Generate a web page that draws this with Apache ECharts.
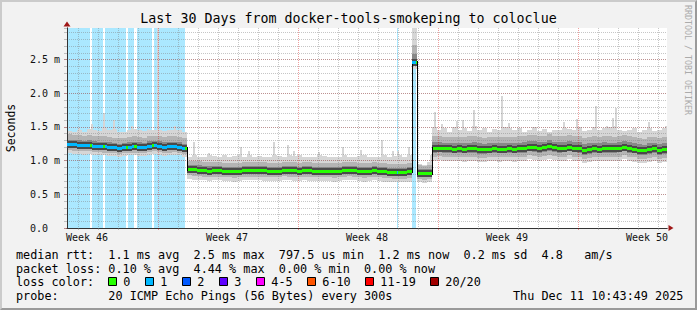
<!DOCTYPE html>
<html><head><meta charset="utf-8">
<script src="https://cdn.jsdelivr.net/npm/echarts@6/dist/echarts.min.js"></script>
<style>
html,body{margin:0;padding:0;background:#F2F2F2;}
#wrap{position:relative;width:697px;height:310px;overflow:hidden;}
#chart{width:697px;height:310px;}
#frame{position:absolute;left:0;top:0;width:697px;height:310px;box-sizing:border-box;border-top:2px solid #CBCBCB;border-left:2px solid #CBCBCB;border-bottom:2px solid #9A9A9A;border-right:2px solid #9A9A9A;pointer-events:none;}
</style></head>
<body><div id="wrap"><div id="chart"></div><div id="frame"></div></div>
<script>
// ---------------- data ----------------
const titleText = 'Last 30 Days from docker-tools-smokeping to coloclue';
const weekLabels = ['Week 46', 'Week 47', 'Week 48', 'Week 49', 'Week 50'];
const weekLabelHours = [24, 192, 360, 528, 696];   // hour from graph start where each label sits
const firstDayLineHour = 13;                        // day grid lines every 24 h from here
const firstWeekLineHour = 109;                      // week grid lines every 168 h from here
const totalDays = 30;
const colDays = 0.25;                               // each data column = 6 h
const yMax = 2.97;                                  // ms
const yLabelTicks = [0, 0.5, 1.0, 1.5, 2.0, 2.5];

// median rtt per column (ms)
const median = [
 1.25,1.24,1.235,1.23,1.235,1.225,1.22,1.215,1.21,1.20,1.19,1.20,1.205,1.215,1.21,1.20,1.225,1.23,1.225,1.205,1.215,1.22,1.21,1.19,
 0.875,0.872,0.866,0.86,0.853,0.855,0.862,0.848,0.845,0.842,0.848,0.855,0.862,0.86,0.862,0.855,0.848,0.85,0.846,0.866,0.86,0.855,0.848,0.858,0.855,0.852,0.85,0.848,0.85,0.845,0.85,0.858,0.865,0.858,0.845,0.842,0.852,0.855,0.845,0.842,0.836,0.832,0.83,0.828,0.84,
 2.46,0.818,0.812,0.82,
 1.19,1.195,1.185,1.183,1.18,1.182,1.178,1.185,1.188,1.175,1.172,1.18,1.183,1.178,1.18,1.182,1.178,1.185,1.19,1.21,1.205,1.19,1.2,1.217,1.2,1.188,1.195,1.21,1.195,1.187,1.16,1.175,1.187,1.18,1.19,1.185,1.182,1.195,1.21,1.19,1.178,1.16,1.152,1.175,1.182,1.16,1.175
];
// smoke: fastest ping per column
const pingMin = [
 1.11,1.10,1.10,1.09,1.10,1.09,1.08,1.08,1.07,1.07,1.06,1.07,1.08,1.08,1.07,1.07,1.09,1.10,1.09,1.07,1.08,1.09,1.08,1.06,
 0.73,0.72,0.72,0.71,0.70,0.71,0.71,0.70,0.70,0.69,0.70,0.71,0.71,0.71,0.71,0.70,0.70,0.70,0.70,0.72,0.71,0.70,0.70,0.71,0.70,0.70,0.70,0.70,0.70,0.69,0.70,0.71,0.72,0.71,0.70,0.69,0.70,0.71,0.70,0.69,0.69,0.68,0.68,0.68,0.69,
 2.36,0.68,0.67,0.68,
 1.00,1.01,0.99,0.99,0.99,0.99,0.98,0.99,1.00,0.98,0.98,0.99,0.99,0.98,0.99,0.99,0.98,0.99,1.00,1.02,1.01,1.00,1.01,1.02,1.01,0.99,1.00,1.02,1.00,0.99,0.97,0.98,0.99,0.99,1.00,0.99,0.99,1.00,1.02,1.00,0.98,0.97,0.96,0.98,0.99,0.97,0.98
];
// smoke: slowest ping per column (typical top, without isolated spikes)
const pingMax = [
 1.44,1.42,1.45,1.43,1.47,1.45,1.44,1.48,1.45,1.47,1.42,1.43,1.46,1.47,1.46,1.44,1.45,1.45,1.46,1.44,1.45,1.46,1.45,1.42,
 1.06,1.08,1.05,1.05,1.08,1.07,1.06,1.08,1.05,1.07,1.09,1.06,1.08,1.06,1.07,1.05,1.06,1.09,1.07,1.06,1.08,1.07,1.08,1.05,1.06,1.05,1.08,1.07,1.05,1.06,1.05,1.08,1.06,1.06,1.07,1.08,1.05,1.06,1.05,1.09,1.06,1.07,1.08,1.05,1.08,
 2.97,0.95,0.93,0.98,
 1.50,1.46,1.48,1.43,1.50,1.46,1.49,1.44,1.52,1.45,1.48,1.43,1.47,1.45,1.50,1.48,1.45,1.49,1.43,1.46,1.50,1.44,1.47,1.43,1.45,1.46,1.49,1.47,1.45,1.50,1.44,1.46,1.50,1.46,1.48,1.50,1.52,1.46,1.44,1.45,1.48,1.43,1.46,1.49,1.44,1.45,1.48
];
const q10 = [
 1.16,1.15,1.14,1.14,1.15,1.13,1.13,1.12,1.12,1.11,1.10,1.11,1.11,1.12,1.12,1.11,1.13,1.14,1.13,1.11,1.12,1.13,1.12,1.10,
 0.78,0.77,0.77,0.76,0.75,0.76,0.76,0.75,0.75,0.74,0.75,0.76,0.76,0.76,0.76,0.75,0.75,0.75,0.75,0.77,0.76,0.75,0.75,0.76,0.75,0.75,0.75,0.75,0.75,0.74,0.75,0.76,0.77,0.76,0.75,0.74,0.75,0.76,0.75,0.74,0.74,0.73,0.73,0.73,0.74,
 2.40,0.73,0.72,0.73,
 1.06,1.07,1.05,1.05,1.05,1.05,1.05,1.05,1.06,1.04,1.04,1.05,1.05,1.05,1.05,1.05,1.05,1.05,1.06,1.08,1.07,1.06,1.07,1.08,1.07,1.06,1.06,1.08,1.06,1.06,1.03,1.04,1.06,1.05,1.06,1.05,1.05,1.06,1.08,1.06,1.05,1.03,1.02,1.04,1.05,1.03,1.04
];
const q25 = [
 1.20,1.19,1.19,1.18,1.19,1.18,1.17,1.17,1.16,1.15,1.145,1.15,1.16,1.17,1.16,1.155,1.18,1.18,1.18,1.16,1.17,1.17,1.165,1.145,
 0.825,0.82,0.815,0.81,0.80,0.805,0.81,0.80,0.795,0.79,0.80,0.805,0.81,0.81,0.81,0.805,0.80,0.80,0.795,0.815,0.81,0.805,0.80,0.81,0.805,0.80,0.80,0.80,0.80,0.795,0.80,0.81,0.815,0.81,0.795,0.79,0.80,0.805,0.795,0.79,0.785,0.78,0.78,0.78,0.79,
 2.43,0.77,0.765,0.77,
 1.12,1.125,1.115,1.11,1.11,1.11,1.11,1.115,1.12,1.105,1.10,1.11,1.11,1.11,1.11,1.11,1.11,1.115,1.12,1.14,1.135,1.12,1.13,1.145,1.13,1.12,1.125,1.14,1.125,1.115,1.09,1.105,1.115,1.11,1.12,1.115,1.11,1.125,1.14,1.12,1.11,1.09,1.08,1.105,1.11,1.09,1.105
];
const q75 = [
 1.31,1.30,1.30,1.29,1.30,1.29,1.28,1.28,1.27,1.26,1.25,1.26,1.27,1.28,1.27,1.26,1.29,1.29,1.29,1.27,1.28,1.28,1.27,1.25,
 0.94,0.935,0.93,0.92,0.915,0.915,0.92,0.91,0.905,0.90,0.91,0.915,0.92,0.92,0.92,0.915,0.91,0.91,0.905,0.925,0.92,0.915,0.91,0.92,0.915,0.91,0.91,0.91,0.91,0.905,0.91,0.92,0.925,0.92,0.905,0.90,0.91,0.915,0.905,0.90,0.895,0.89,0.89,0.89,0.90,
 2.58,0.88,0.87,0.88,
 1.27,1.275,1.265,1.26,1.26,1.26,1.26,1.265,1.27,1.255,1.25,1.26,1.265,1.26,1.26,1.26,1.26,1.265,1.27,1.29,1.285,1.27,1.28,1.30,1.28,1.27,1.275,1.29,1.275,1.27,1.24,1.255,1.265,1.26,1.27,1.265,1.26,1.275,1.29,1.27,1.26,1.24,1.23,1.255,1.26,1.24,1.255
];
const q90 = [
 1.39,1.38,1.38,1.37,1.38,1.37,1.36,1.36,1.35,1.34,1.33,1.34,1.35,1.36,1.35,1.34,1.37,1.37,1.37,1.35,1.36,1.36,1.35,1.33,
 1.00,0.995,0.99,0.98,0.975,0.975,0.98,0.97,0.965,0.96,0.97,0.975,0.985,0.98,0.985,0.975,0.97,0.97,0.965,0.985,0.98,0.975,0.97,0.98,0.975,0.97,0.97,0.97,0.97,0.965,0.97,0.98,0.985,0.98,0.965,0.96,0.97,0.975,0.965,0.96,0.955,0.95,0.95,0.95,0.96,
 2.72,0.93,0.92,0.94,
 1.36,1.37,1.35,1.35,1.35,1.35,1.35,1.36,1.36,1.35,1.34,1.35,1.35,1.35,1.35,1.35,1.35,1.36,1.36,1.38,1.38,1.36,1.37,1.39,1.37,1.36,1.37,1.38,1.37,1.36,1.33,1.35,1.36,1.35,1.36,1.36,1.35,1.37,1.38,1.36,1.35,1.33,1.32,1.35,1.35,1.33,1.35
];
// isolated slow pings (spikes): time in days from start, value in ms
const spikeAt  = [0.55,1.18,1.80,2.30,3.20,4.00,4.52,5.35, 6.30,7.05,8.65,9.05,10.30,11.00,11.30,12.55,13.75,14.65,15.70,16.25,16.50,17.05,18.15, 18.35,18.70,19.45,19.75,20.30,21.68,22.05,24.80,25.45,26.42,26.95,27.25,27.42,29.05,29.90];
const spikeTop = [1.48,1.55,1.71,1.60,1.51,1.47,2.97,1.51, 1.28,1.11,1.21,1.14,1.27,1.23,1.15,1.13,1.20,1.16,1.30,1.14,1.14,1.21,1.09, 1.73,1.54,1.59,1.61,1.75,1.96,1.56,1.58,1.62,1.81,1.52,1.64,1.78,1.57,1.52];
// packet loss periods (days from start) and loss bucket index
const lossFrom  = [0.00,1.24,1.90,3.04,3.50,4.34,16.49,17.27];
const lossTo    = [1.15,1.78,2.96,3.37,4.23,5.90,16.55,17.43];
const lossLevel = [1,1,1,1,1,1,1,1];
const lossNames  = ['0','1','2','3','4-5','6-10','11-19','20/20'];
const lossColors = ['#26ff00','#00b8ff','#0059ff','#5e00ff','#ff00ff','#ff5500','#ff0000','#a10000'];
const statLines = [
 'median rtt:  1.1 ms avg  2.5 ms max  797.5 us min  1.2 ms now  0.2 ms sd  4.8   am/s',
 'packet loss: 0.10 % avg  4.44 % max  0.00 % min  0.00 % now',
 'loss color:',
 'probe:       20 ICMP Echo Pings (56 Bytes) every 300s'
];
const stampText = 'Thu Dec 11 10:43:49 2025';
const creditText = 'RRDTOOL / TOBI OETIKER';
const yAxisName = 'Seconds';

// ---------------- chart ----------------
const FONT = '"DejaVu Sans Mono", monospace';
const nCols = median.length;
const hours = Array.from({length: totalDays * 24 + 1}, (_, i) => String(i));
const isWeekLine = (i) => i >= firstWeekLineHour && (i - firstWeekLineHour) % 168 === 0;
const isDayLine = (i) => i >= firstDayLineHour && (i - firstDayLineHour) % 24 === 0 && !isWeekLine(i);
const isLabel = (i) => weekLabelHours.indexOf(i) >= 0;

function box(api, t0, t1, v0, v1) {
  const a = api.coord([t0, v1]), b = api.coord([t1, v0]);
  const X0 = Math.round(a[0]), X1 = Math.round(b[0]);
  const Y0 = Math.round(a[1]), Y1 = Math.round(b[1]);
  return {x: X0, y: Y0, width: Math.max(X1 - X0, 1), height: Math.max(Y1 - Y0, 0)};
}

const smokeData = median.map((m, i) => [i * colDays, (i + 1) * colDays, pingMin[i], pingMax[i], q10[i], q90[i], q25[i], q75[i]]);
const medianData = median.map((m, i) => [i * colDays, (i + 1) * colDays, m]);
const spikeData = spikeAt.map((t, k) => [t, spikeTop[k]]);
const lossData = lossFrom.map((a, k) => [a, lossTo[k], lossLevel[k]]);

const gridMinor = 'rgba(128,128,128,0.45)';
const gridMajor = 'rgba(210,0,0,0.38)';

// legend graphics
const legendEls = [];
const lineY = [254.8, 268.5, 282.2, 296.0];
statLines.forEach((s, k) => legendEls.push({
  type: 'text', x: 16, y: lineY[k], silent: true,
  style: {text: s, font: '11.8px ' + FONT, fill: '#000', verticalAlign: 'middle', textVerticalAlign: 'middle'}
}));
legendEls.push({type: 'text', x: 513, y: lineY[3], silent: true,
  style: {text: stampText, font: '11.8px ' + FONT, fill: '#000', verticalAlign: 'middle', textVerticalAlign: 'middle'}});
let lx = 108.3;
lossNames.forEach((name, k) => {
  legendEls.push({type: 'rect', silent: true, shape: {x: Math.round(lx) + 0.5, y: 277.5, width: 8, height: 8},
    style: {fill: lossColors[k], stroke: '#000', lineWidth: 1}});
  legendEls.push({type: 'text', x: lx + 15, y: lineY[2], silent: true,
    style: {text: name, font: '11.8px ' + FONT, fill: '#000', verticalAlign: 'middle', textVerticalAlign: 'middle'}});
  lx += 15 + name.length * 7.0 + 15;
});
legendEls.push({type: 'text', x: 687.5, y: 60, rotation: -Math.PI / 2, silent: true,
  style: {text: creditText, font: '8.3px ' + FONT, fill: '#ababab', align: 'center', textAlign: 'center', verticalAlign: 'middle', textVerticalAlign: 'middle'}});

const chart = echarts.init(document.getElementById('chart'), null, {renderer: 'svg', width: 697, height: 310});
chart.setOption({
  animation: false,
  backgroundColor: '#F2F2F2',
  title: {text: titleText, left: 'center', top: 12, padding: 0,
    textStyle: {fontFamily: FONT, fontSize: 13.3, fontWeight: 'normal', color: '#000'}},
  grid: {left: 67, top: 28, width: 600, height: 200, show: true, backgroundColor: '#ffffff', borderWidth: 0,
    containLabel: false, outerBoundsMode: 'none'},
  xAxis: [
    { // data axis (days), carries the arrow
      type: 'value', position: 'bottom', min: 0, max: totalDays, z: 2.9,
      axisLine: {show: true, onZero: false, symbol: ['none', 'triangle'], symbolSize: [6, 5], symbolOffset: [0, 4], lineStyle: {color: '#a01818', width: 1}},
      axisTick: {show: false}, axisLabel: {show: false}, splitLine: {show: false}
    },
    { // day grid
      type: 'category', position: 'bottom', data: hours, boundaryGap: false, z: 3,
      axisLine: {show: false, onZero: false},
      axisTick: {show: true, length: 2, interval: isDayLine, lineStyle: {color: gridMinor}},
      axisLabel: {show: false},
      splitLine: {show: true, interval: isDayLine, lineStyle: {color: gridMinor, type: [1, 1], width: 1}}
    },
    { // week grid + labels
      type: 'category', position: 'bottom', data: hours, boundaryGap: false, z: 3,
      axisLine: {show: true, onZero: false, lineStyle: {color: '#333', width: 1}},
      axisTick: {show: true, length: 2, interval: isWeekLine, lineStyle: {color: gridMajor}},
      axisLabel: {show: true, interval: isLabel, margin: 4, fontFamily: FONT, fontSize: 10, color: '#111',
        formatter: (v) => weekLabels[weekLabelHours.indexOf(parseInt(v, 10))] || ''},
      splitLine: {show: true, interval: isWeekLine, lineStyle: {color: gridMajor, type: [1, 1], width: 1}}
    }
  ],
  yAxis: [
    {
      type: 'value', position: 'left', min: 0, max: yMax, interval: 0.5, z: 3,
      name: yAxisName, nameLocation: 'middle', nameGap: 50, nameRotate: 90,
      nameTextStyle: {fontFamily: FONT, fontSize: 11.5, color: '#000'},
      axisLine: {show: true, onZero: false, lineStyle: {color: '#333', width: 1}},
      axisTick: {show: true, length: 3, lineStyle: {color: gridMajor}},
      axisLabel: {show: true, align: 'left', margin: 37, fontFamily: FONT, fontSize: 10, color: '#111', showMaxLabel: false,
        formatter: (v) => {
          const hit = yLabelTicks.find(t => Math.abs(t - v) < 1e-6);
          if (hit === undefined) return '';
          return hit === 0 ? '0.0' : hit.toFixed(1) + ' m';
        }},
      splitLine: {show: true, showMaxLine: false, lineStyle: {color: gridMajor, type: [1, 1], width: 1}}
    },
    {
      type: 'value', position: 'left', min: 0, max: yMax, interval: 0.1, z: 3,
      axisLine: {show: false, onZero: false},
      axisTick: {show: true, length: 3, lineStyle: {color: gridMinor}},
      axisLabel: {show: false},
      splitLine: {show: true, showMaxLine: false, lineStyle: {color: gridMinor, type: [1, 1], width: 1}}
    },
    {
      type: 'value', position: 'left', min: 0, max: yMax, z: 2.9,
      axisLine: {show: true, onZero: false, symbol: ['none', 'triangle'], symbolSize: [7, 5], symbolOffset: [0, 4], lineStyle: {color: '#a01818', width: 1}},
      axisTick: {show: false}, axisLabel: {show: false}, splitLine: {show: false}
    }
  ],
  series: [
    { // loss background
      type: 'custom', name: 'loss', xAxisIndex: 0, yAxisIndex: 0, z: 1, clip: true, silent: true,
      data: lossData,
      renderItem: (params, api) => ({
        type: 'rect', shape: box(api, api.value(0), api.value(1), 0, yMax),
        style: {fill: lossColors[api.value(2)], opacity: 0.33}
      })
    },
    { // isolated spikes
      type: 'custom', name: 'spikes', xAxisIndex: 0, yAxisIndex: 0, z: 2, clip: true, silent: true,
      data: spikeData,
      renderItem: (params, api) => {
        const t = api.value(0);
        const ci = Math.min(nCols - 1, Math.floor(t / colDays));
        return {type: 'rect', shape: box(api, t, t + 0.1, median[ci], api.value(1)), style: {fill: '#d6d6d6'}};
      }
    },
    { // smoke
      type: 'custom', name: 'smoke', xAxisIndex: 0, yAxisIndex: 0, z: 2, clip: true, silent: true,
      data: smokeData,
      renderItem: (params, api) => {
        const t0 = api.value(0), t1 = api.value(1);
        const bands = [[2, 3, '#d6d6d6'], [4, 5, '#b4b4b4'], [6, 7, '#888888']];
        return {type: 'group', children: bands.map(([a, b, c]) => ({
          type: 'rect', shape: box(api, t0, t1, api.value(a), api.value(b)), style: {fill: c}
        }))};
      }
    },
    { // median
      type: 'custom', name: 'median', xAxisIndex: 0, yAxisIndex: 0, z: 4, clip: true, silent: true,
      data: medianData,
      renderItem: (params, api) => {
        const i = params.dataIndex;
        const t0 = api.value(0), t1 = api.value(1), m = api.value(2);
        const p0 = api.coord([t0, m]), p1 = api.coord([t1, m]);
        const x0 = Math.round(p0[0]), x1 = Math.round(p1[0]), y = Math.round(p0[1]);
        const children = [
          {type: 'rect', shape: {x: x0, y: y - 3, width: x1 - x0, height: 7}, style: {fill: '#4a4a4a'}},
          {type: 'rect', shape: {x: x0, y: y - 1, width: x1 - x0, height: 3}, style: {fill: lossColors[0]}}
        ];
        if (i > 0) {
          const yp = Math.round(api.coord([t0, median[i - 1]])[1]);
          if (Math.abs(yp - y) > 2) {
            children.push({type: 'rect', shape: {x: x0, y: Math.min(yp, y) - 1, width: 1, height: Math.abs(yp - y) + 3}, style: {fill: '#000'}});
          }
        }
        return {type: 'group', children};
      }
    },
    { // median coloured by loss
      type: 'custom', name: 'lossMedian', xAxisIndex: 0, yAxisIndex: 0, z: 5, clip: true, silent: true,
      data: lossData,
      renderItem: (params, api) => {
        const a = api.value(0), b = api.value(1), lvl = api.value(2);
        const children = [];
        for (let i = Math.floor(a / colDays); i < nCols && i * colDays < b; i++) {
          const s = Math.max(a, i * colDays), e = Math.min(b, (i + 1) * colDays);
          if (e <= s) continue;
          const p0 = api.coord([s, median[i]]), p1 = api.coord([e, median[i]]);
          const x0 = Math.round(p0[0]), x1 = Math.max(Math.round(p1[0]), x0 + 1), y = Math.round(p0[1]);
          children.push({type: 'rect', shape: {x: x0, y: y - 1, width: x1 - x0, height: 3}, style: {fill: lossColors[lvl]}});
        }
        return {type: 'group', children};
      }
    }
  ],
  graphic: legendEls
});
</script>
</body></html>
